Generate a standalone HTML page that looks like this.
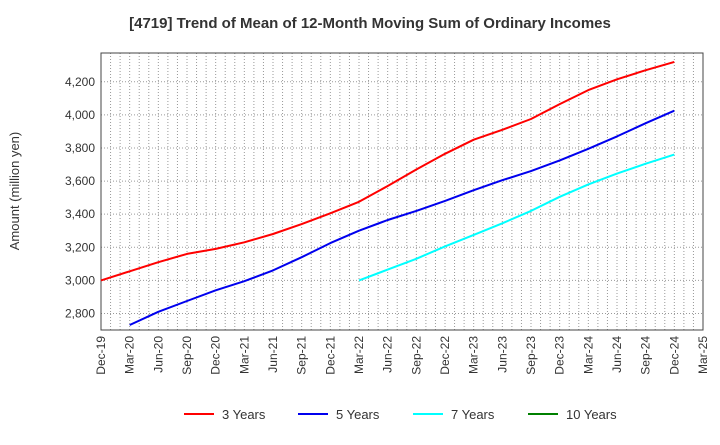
<!DOCTYPE html>
<html><head><meta charset="utf-8"><style>
body{margin:0;background:#fff;font-family:"Liberation Sans",sans-serif}
</style></head><body>
<svg width="720" height="440" xmlns="http://www.w3.org/2000/svg" font-family="Liberation Sans, sans-serif">
<text x="370" y="28" text-anchor="middle" font-size="15" font-weight="bold" fill="#333">[4719]  Trend of Mean of 12-Month Moving Sum of Ordinary Incomes</text>
<text transform="translate(19,191) rotate(-90)" text-anchor="middle" font-size="13" fill="#333">Amount (million yen)</text>
<g id="grid"></g><g id="axes"></g><g id="series"></g>
<g id="legend"></g>
</svg>
<script>
const xLabels=["Dec-19","Mar-20","Jun-20","Sep-20","Dec-20","Mar-21","Jun-21","Sep-21","Dec-21","Mar-22","Jun-22","Sep-22","Dec-22","Mar-23","Jun-23","Sep-23","Dec-23","Mar-24","Jun-24","Sep-24","Dec-24","Mar-25"];
const yTicks=[2800,3000,3200,3400,3600,3800,4000,4200];
const s3=[3000,3055,3110,3160,3190,3230,3280,3340,3405,3475,3570,3670,3765,3850,3910,3975,4065,4150,4215,4270,4320];
const s5=[null,2730,2810,2875,2940,2995,3060,3140,3225,3300,3365,3420,3480,3545,3605,3660,3725,3795,3870,3950,4025];
const s7=[null,null,null,null,null,null,null,null,null,3000,3065,3130,3205,3275,3345,3420,3505,3580,3645,3705,3760];
const s10=[];
const L=101,R=703,T=53,B=330,yMin=2700,yMax=4374;
const NS="http://www.w3.org/2000/svg";
function xq(i){return L+i*(R-L)/21;}
function y(v){return B-(v-yMin)/(yMax-yMin)*(B-T);}
function mk(tag,attrs,parent){const e=document.createElementNS(NS,tag);for(const k in attrs)e.setAttribute(k,attrs[k]);document.getElementById(parent).appendChild(e);return e;}
for(let m=1;m<63;m++){const x=L+m*(R-L)/63;
const g=mk("line",{x1:x,x2:x,y1:T,y2:B,stroke:"#999","stroke-dasharray":"1,2","stroke-width":1},"grid");

}
yTicks.forEach(v=>{const g=mk("line",{x1:L,x2:R,y1:y(v),y2:y(v),stroke:"#999","stroke-dasharray":"1,2"},"grid");


const t=mk("text",{x:L-6,y:y(v)+4,"text-anchor":"end","font-size":12,fill:"#333"},"axes");t.textContent=v.toLocaleString("en-US");

});
const fr=mk("rect",{x:L,y:T,width:R-L,height:B-T,fill:"none",stroke:"#444","stroke-width":1},"axes");


xLabels.forEach((l,i)=>{const x=xq(i);const t=mk("text",{transform:`translate(${x+4},${B+6}) rotate(-90)`,"text-anchor":"end","font-size":12,fill:"#333"},"axes");t.textContent=l;

});
function series(d,c,name){let p="";d.forEach((v,i)=>{if(v==null)return;p+=(p?"L":"M")+xq(i).toFixed(1)+","+y(v).toFixed(1);});
if(!p)return;const e=mk("path",{d:p,fill:"none",stroke:c,"stroke-width":2,"stroke-linejoin":"round"},"series");

}
series(s3,"#ff0000","line-3-years");series(s5,"#0000ee","line-5-years");series(s7,"#00ffff","line-7-years");series(s10,"#008000","line-10-years");
[["3 Years","#ff0000",184],["5 Years","#0000ee",298],["7 Years","#00ffff",413],["10 Years","#008000",528]].forEach(([n,c,x])=>{
const l=mk("line",{x1:x,x2:x+30,y1:414,y2:414,stroke:c,"stroke-width":2},"legend");


const t=mk("text",{x:x+38,y:419,"font-size":13,fill:"#333"},"legend");t.textContent=n;

});
</script>
</body></html>
